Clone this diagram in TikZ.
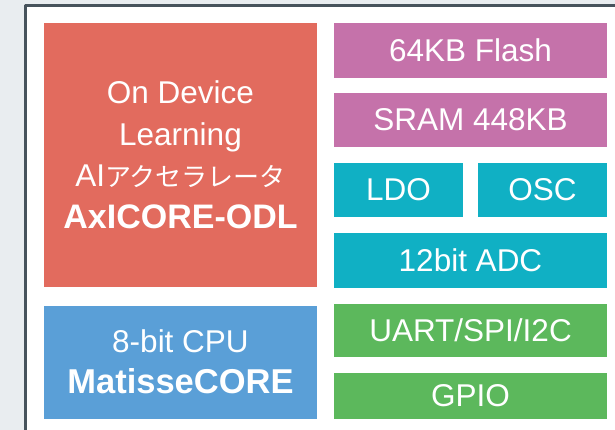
\documentclass[tikz,border=0pt]{standalone}
\usepackage{fontspec}
\setmainfont{Liberation Sans}
\newfontfamily\jpfont{Noto Sans CJK JP}
\usetikzlibrary{positioning}
\usepackage{xcolor}

\definecolor{pagegray}{HTML}{E9EDF0}
\definecolor{framegray}{HTML}{47535C}
\definecolor{odlred}{HTML}{E26B5E}
\definecolor{memmag}{HTML}{C572AA}
\definecolor{anateal}{HTML}{10B0C4}
\definecolor{cpublue}{HTML}{5A9FD7}
\definecolor{iogreen}{HTML}{5CB85C}

\tikzset{
  block/.style={rectangle, inner sep=0pt, text=white, align=center,
    font=\fontsize{31.5}{41.5}\selectfont}
}

\begin{document}
\begin{tikzpicture}[line cap=round,line join=round,x=1pt,y=-1pt]
% Page and frame
\useasboundingbox (0,0) rectangle (615,430);
\clip (0,0) rectangle (615,430);
\fill [color=pagegray] (0,0) rectangle (615,430);
\draw [line width=3pt, color=framegray, fill=white, line cap=butt] (25.5,5.5) rectangle (650,470);

% Left column
\node [block, fill=odlred, minimum width=273pt, minimum height=264pt] (odl) at (180.5,155)
  {On Device\\Learning\\AI{\jpfont\fontsize{26}{41.5}\selectfont アクセラレータ}\\{\fontsize{34}{41.5}\selectfont\bfseries AxICORE-ODL}};
\node [block, fill=cpublue, minimum width=273pt, minimum height=113pt] (cpu) at (180.5,362)
  {8-bit CPU\\{\fontsize{34.5}{45}\selectfont\bfseries MatisseCORE}};

% Right column
\node [block, fill=memmag, minimum width=273pt, minimum height=55pt] (flash) at (470.5,50.5) {64KB Flash};
\node [block, fill=memmag, minimum width=273pt, minimum height=54pt] (sram) at (470.5,120) {SRAM 448KB};
\node [block, fill=anateal, minimum width=129pt, minimum height=54pt] (ldo) at (398.5,190) {LDO};
\node [block, fill=anateal, minimum width=129pt, minimum height=54pt] (osc) at (542.5,190) {OSC};
\node [block, fill=anateal, minimum width=273pt, minimum height=55pt] (adc) at (470.5,260.5) {12bit ADC};
\node [block, fill=iogreen, minimum width=273pt, minimum height=53pt] (uart) at (470.5,330.5) {UART/SPI/I2C};
\node [block, fill=iogreen, minimum width=273pt, minimum height=46pt] (gpio) at (470.5,396) {GPIO};
\end{tikzpicture}
\end{document}
